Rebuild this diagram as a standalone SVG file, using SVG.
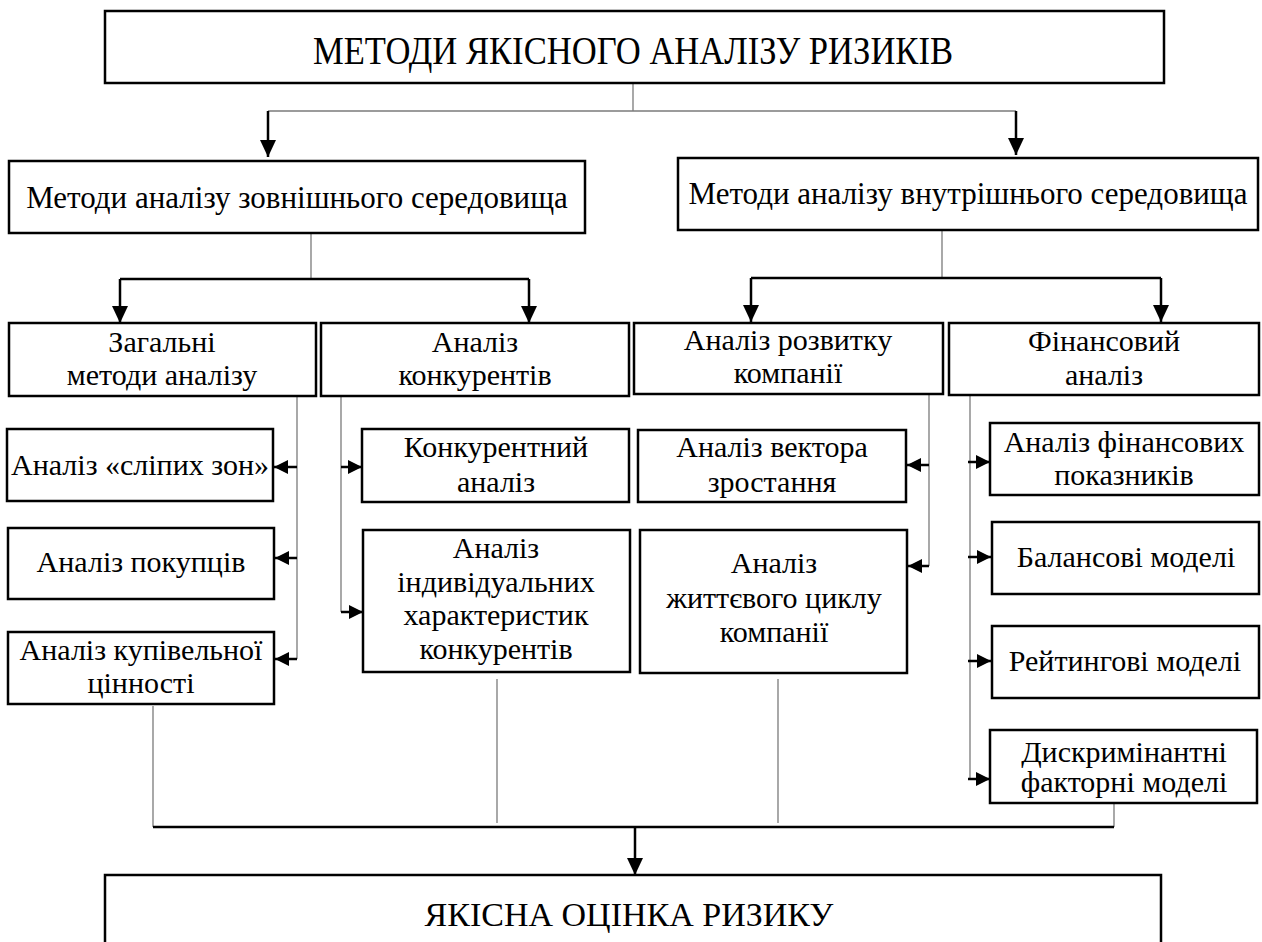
<svg xmlns="http://www.w3.org/2000/svg" width="1262" height="942" viewBox="0 0 1262 942">
<style>
.box{fill:#fff;stroke:#000;stroke-width:2.5}
.t{font-family:"Liberation Serif","Times New Roman",serif;font-size:30px;fill:#000;text-anchor:middle}
.thin{stroke:#7a7a7a;stroke-width:1.3;fill:none}
.thick{stroke:#000;stroke-width:2.5;fill:none}
</style>
<defs>
<marker id="ad" markerUnits="userSpaceOnUse" markerWidth="18" markerHeight="17" refX="17" refY="8" orient="auto">
<path d="M0,0 L17,8 L0,16 z" fill="#000"/>
</marker>
<marker id="as" markerUnits="userSpaceOnUse" markerWidth="15" markerHeight="15" refX="14" refY="7" orient="auto">
<path d="M0,0 L14,7 L0,14 z" fill="#000"/>
</marker>
</defs>

<g id="connectors">
<line class="thin" x1="633" y1="83" x2="633" y2="111"/>
<line class="thin" x1="268" y1="111" x2="1016" y2="111"/>
<line class="thick" x1="268" y1="111" x2="268" y2="157" marker-end="url(#ad)"/>
<line class="thick" x1="1016" y1="111" x2="1016" y2="155" marker-end="url(#ad)"/>

<line class="thin" x1="311" y1="234" x2="311" y2="279"/>
<line class="thick" x1="120" y1="279" x2="529" y2="279"/>
<line class="thick" x1="120" y1="279" x2="120" y2="323" marker-end="url(#ad)"/>
<line class="thick" x1="529" y1="279" x2="529" y2="323" marker-end="url(#ad)"/>

<line class="thin" x1="942" y1="231" x2="942" y2="278"/>
<line class="thick" x1="751" y1="278" x2="1161" y2="278"/>
<line class="thick" x1="751" y1="278" x2="751" y2="322" marker-end="url(#ad)"/>
<line class="thick" x1="1161" y1="278" x2="1161" y2="322" marker-end="url(#ad)"/>

<line class="thin" x1="297" y1="397" x2="297" y2="659"/>
<line class="thick" x1="297" y1="467" x2="274" y2="467" marker-end="url(#as)"/>
<line class="thick" x1="297" y1="558" x2="275" y2="558" marker-end="url(#as)"/>
<line class="thick" x1="297" y1="659" x2="275" y2="659" marker-end="url(#as)"/>

<line class="thin" x1="341" y1="397" x2="341" y2="612"/>
<line class="thick" x1="341" y1="467" x2="362" y2="467" marker-end="url(#as)"/>
<line class="thick" x1="341" y1="612" x2="363" y2="612" marker-end="url(#as)"/>

<line class="thin" x1="929" y1="395" x2="929" y2="566"/>
<line class="thick" x1="929" y1="465" x2="907" y2="465" marker-end="url(#as)"/>
<line class="thick" x1="929" y1="566" x2="908" y2="566" marker-end="url(#as)"/>

<line class="thin" x1="970" y1="396" x2="970" y2="779"/>
<line class="thick" x1="968" y1="462" x2="990" y2="462" marker-end="url(#as)"/>
<line class="thick" x1="968" y1="557" x2="991" y2="557" marker-end="url(#as)"/>
<line class="thick" x1="968" y1="661" x2="991" y2="661" marker-end="url(#as)"/>
<line class="thick" x1="968" y1="779" x2="990" y2="779" marker-end="url(#as)"/>

<line class="thin" x1="153" y1="706" x2="153" y2="827"/>
<line class="thin" x1="497" y1="679" x2="497" y2="823"/>
<line class="thin" x1="778" y1="679" x2="778" y2="823"/>
<line class="thin" x1="1114" y1="804" x2="1114" y2="827"/>
<line class="thick" x1="153" y1="827" x2="1114" y2="827"/>
<line class="thick" x1="635" y1="827" x2="635" y2="875" marker-end="url(#ad)"/>
</g>

<g id="n-top">
<rect class="box" x="105" y="11" width="1059" height="72"/>
<text class="t" x="633" y="64" style="font-size:40px" textLength="640" lengthAdjust="spacingAndGlyphs">МЕТОДИ ЯКІСНОГО АНАЛІЗУ РИЗИКІВ</text>
</g>
<g id="n-ext">
<rect class="box" x="9" y="161" width="576" height="72"/>
<text class="t" x="297" y="208" style="font-size:31px">Методи аналізу зовнішнього середовища</text>
</g>
<g id="n-int">
<rect class="box" x="678" y="158" width="580" height="72"/>
<text class="t" x="968" y="204" style="font-size:31px">Методи аналізу внутрішнього середовища</text>
</g>

<g id="n-general">
<rect class="box" x="9" y="323" width="307" height="73"/>
<text class="t" x="162" y="352">Загальні</text>
<text class="t" x="162" y="385">методи аналізу</text>
</g>
<g id="n-competitors">
<rect class="box" x="321" y="323" width="308" height="73"/>
<text class="t" x="475" y="352">Аналіз</text>
<text class="t" x="475" y="385">конкурентів</text>
</g>
<g id="n-development">
<rect class="box" x="634" y="323" width="309" height="71"/>
<text class="t" x="788" y="350">Аналіз розвитку</text>
<text class="t" x="788" y="383">компанії</text>
</g>
<g id="n-financial">
<rect class="box" x="949" y="323" width="310" height="72"/>
<text class="t" x="1104" y="351">Фінансовий</text>
<text class="t" x="1104" y="385">аналіз</text>
</g>

<g id="n-blind">
<rect class="box" x="7" y="429" width="266" height="72"/>
<text class="t" x="140" y="475">Аналіз «сліпих зон»</text>
</g>
<g id="n-buyers">
<rect class="box" x="8" y="528" width="266" height="71"/>
<text class="t" x="141" y="572">Аналіз покупців</text>
</g>
<g id="n-value">
<rect class="box" x="8" y="632" width="266" height="72"/>
<text class="t" x="141" y="660">Аналіз купівельної</text>
<text class="t" x="141" y="693">цінності</text>
</g>

<g id="n-compan">
<rect class="box" x="362" y="429" width="267" height="73"/>
<text class="t" x="496" y="457">Конкурентний</text>
<text class="t" x="496" y="492">аналіз</text>
</g>
<g id="n-indiv">
<rect class="box" x="363" y="530" width="267" height="142"/>
<text class="t" x="496" y="558">Аналіз</text>
<text class="t" x="496" y="592">індивідуальних</text>
<text class="t" x="496" y="625">характеристик</text>
<text class="t" x="496" y="659">конкурентів</text>
</g>

<g id="n-vector">
<rect class="box" x="638" y="430" width="268" height="72"/>
<text class="t" x="772" y="457">Аналіз вектора</text>
<text class="t" x="772" y="492">зростання</text>
</g>
<g id="n-lifecycle">
<rect class="box" x="640" y="530" width="267" height="143"/>
<text class="t" x="774" y="573">Аналіз</text>
<text class="t" x="774" y="608">життєвого циклу</text>
<text class="t" x="774" y="642">компанії</text>
</g>

<g id="n-indicators">
<rect class="box" x="990" y="423" width="269" height="72"/>
<text class="t" x="1124" y="452">Аналіз фінансових</text>
<text class="t" x="1124" y="485">показників</text>
</g>
<g id="n-balance">
<rect class="box" x="992" y="522" width="267" height="72"/>
<text class="t" x="1126" y="567">Балансові моделі</text>
</g>
<g id="n-rating">
<rect class="box" x="992" y="626" width="267" height="72"/>
<text class="t" x="1125" y="671">Рейтингові моделі</text>
</g>
<g id="n-discr">
<rect class="box" x="990" y="730" width="267" height="73"/>
<text class="t" x="1124" y="762">Дискримінантні</text>
<text class="t" x="1124" y="792">факторні моделі</text>
</g>

<g id="n-bottom">
<rect class="box" x="105" y="875" width="1056" height="80"/>
<text class="t" x="629" y="926" style="font-size:34px">ЯКІСНА ОЦІНКА РИЗИКУ</text>
</g>
</svg>
